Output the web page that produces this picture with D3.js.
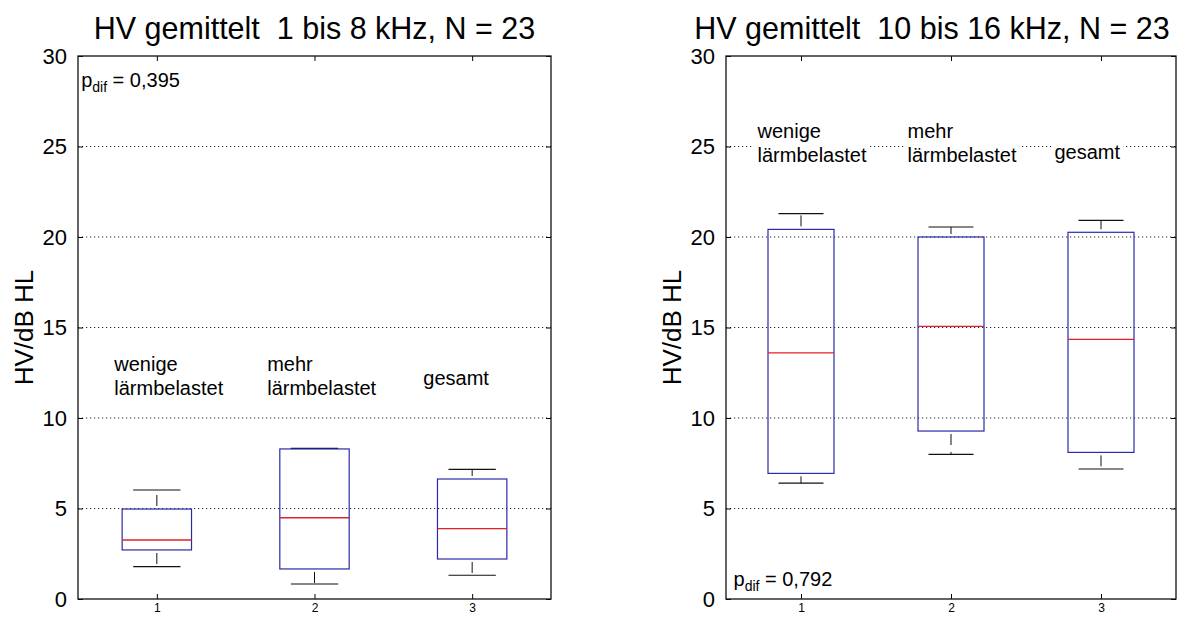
<!DOCTYPE html>
<html>
<head>
<meta charset="utf-8">
<script src="https://cdn.jsdelivr.net/npm/d3@7"></script>
<style>
  html, body { margin: 0; padding: 0; background: #fff; }
  svg { display: block; }
  text { font-family: "Liberation Sans", Arial, Helvetica, sans-serif; fill: #000; white-space: pre; }
</style>
</head>
<body>
<svg id="chart" width="1194" height="617"></svg>
<script>
// Hearing loss (HV) averaged over two frequency ranges, three groups each
const categories = [1, 2, 3];
const groupLabels = [["wenige", "lärmbelastet"], ["mehr", "lärmbelastet"], ["gesamt"]];
const yTicks = [0, 5, 10, 15, 20, 25, 30];
const yLabel = "HV/dB HL";

// Panel 1: 1 bis 8 kHz
const title1 = "HV gemittelt  1 bis 8 kHz, N = 23";
const lowWhisker1 = [1.79, 0.83, 1.31];
const q1_1 = [2.71, 1.66, 2.21];
const median1 = [3.26, 4.49, 3.89];
const q3_1 = [4.97, 8.29, 6.63];
const highWhisker1 = [6.02, 8.32, 7.16];
const pdif1 = "0,395";

// Panel 2: 10 bis 16 kHz
const title2 = "HV gemittelt  10 bis 16 kHz, N = 23";
const lowWhisker2 = [6.40, 7.99, 7.18];
const q1_2 = [6.94, 9.28, 8.10];
const median2 = [13.60, 15.06, 14.34];
const q3_2 = [20.42, 20.00, 20.26];
const highWhisker2 = [21.29, 20.55, 20.92];
const pdif2 = "0,792";

const svg = d3.select("#chart");

const panels = [
  {
    title: title1, low: lowWhisker1, q1: q1_1, med: median1, q3: q3_1, high: highWhisker1, pdif: pdif1,
    left: 78, right: 551, top: 56, bottom: 599, titleShift: 0,
    labelPos: [[0.73, 12.6], [1.70, 12.6], [2.69, 11.85]],
    pPos: [0.52, 28.3]
  },
  {
    title: title2, low: lowWhisker2, q1: q1_2, med: median2, q3: q3_2, high: highWhisker2, pdif: pdif2,
    left: 726, right: 1176, top: 56, bottom: 599, titleShift: -19,
    labelPos: [[0.71, 25.45], [1.71, 25.45], [2.69, 24.3]],
    pPos: [0.55, 0.7]
  }
];

const boxWidth = 0.44;
const capWidth = 0.3;

panels.forEach(p => {
  const x = d3.scaleLinear().domain([0.5, 3.5]).range([p.left, p.right]);
  const y = d3.scaleLinear().domain([0, 30]).range([p.bottom, p.top]);
  const g = svg.append("g");

  // dotted horizontal grid
  g.append("g").selectAll("line").data(yTicks.filter(t => t > 0 && t < 30)).join("line")
    .attr("x1", p.left).attr("x2", p.right)
    .attr("y1", d => y(d)).attr("y2", d => y(d))
    .attr("stroke", "#222").attr("stroke-width", 1)
    .attr("stroke-dasharray", "1.2,2.8");

  // y axis: ticks pointing inward, labels outside
  const yAxis = g.append("g").attr("transform", `translate(${p.left},0)`)
    .call(d3.axisLeft(y).tickValues(yTicks).tickSize(-5).tickPadding(11).tickFormat(d3.format("d")));
  yAxis.select(".domain").remove();
  yAxis.selectAll("text").attr("font-size", 22).attr("fill", "#000");
  yAxis.selectAll("line").attr("stroke", "#000");

  const yAxisR = g.append("g").attr("transform", `translate(${p.right},0)`)
    .call(d3.axisRight(y).tickValues(yTicks).tickSize(-5).tickFormat(""));
  yAxisR.select(".domain").remove();
  yAxisR.selectAll("line").attr("stroke", "#000");

  // x axis ticks (bottom and top), labels below
  const xAxis = g.append("g").attr("transform", `translate(0,${p.bottom})`)
    .call(d3.axisBottom(x).tickValues(categories).tickSize(-5).tickPadding(4).tickFormat(d3.format("d")));
  xAxis.select(".domain").remove();
  xAxis.selectAll("text").attr("font-size", 12).attr("fill", "#000");
  xAxis.selectAll("line").attr("stroke", "#000");

  const xAxisT = g.append("g").attr("transform", `translate(0,${p.top})`)
    .call(d3.axisTop(x).tickValues(categories).tickSize(-5).tickFormat(""));
  xAxisT.select(".domain").remove();
  xAxisT.selectAll("line").attr("stroke", "#000");

  // frame
  g.append("rect")
    .attr("x", p.left).attr("y", p.top)
    .attr("width", p.right - p.left).attr("height", p.bottom - p.top)
    .attr("fill", "none").attr("stroke", "#111").attr("stroke-width", 1.3);

  // boxes
  const idx = d3.range(categories.length);
  const bw = x(1 + boxWidth / 2) - x(1);
  const cw = x(1 + capWidth / 2) - x(1);

  const bx = g.append("g").selectAll("g").data(idx).join("g");

  // whiskers (dashed) from box to caps
  bx.append("line")
    .attr("x1", i => x(categories[i])).attr("x2", i => x(categories[i]))
    .attr("y1", i => y(p.q3[i])).attr("y2", i => y(p.high[i]))
    .attr("stroke", "#111").attr("stroke-dasharray", "0,3,11,4");
  bx.append("line")
    .attr("x1", i => x(categories[i])).attr("x2", i => x(categories[i]))
    .attr("y1", i => y(p.q1[i])).attr("y2", i => y(p.low[i]))
    .attr("stroke", "#111").attr("stroke-dasharray", "0,3,11,4");
  // caps
  bx.append("line")
    .attr("x1", i => x(categories[i]) - cw).attr("x2", i => x(categories[i]) + cw)
    .attr("y1", i => y(p.high[i])).attr("y2", i => y(p.high[i]))
    .attr("stroke", "#111").attr("stroke-width", 1.1);
  bx.append("line")
    .attr("x1", i => x(categories[i]) - cw).attr("x2", i => x(categories[i]) + cw)
    .attr("y1", i => y(p.low[i])).attr("y2", i => y(p.low[i]))
    .attr("stroke", "#111").attr("stroke-width", 1.1);
  // interquartile box
  bx.append("rect")
    .attr("x", i => x(categories[i]) - bw)
    .attr("y", i => y(p.q3[i]))
    .attr("width", 2 * bw)
    .attr("height", i => y(p.q1[i]) - y(p.q3[i]))
    .attr("fill", "none").attr("stroke", "#2a2aa8").attr("stroke-width", 1.2);
  // median
  bx.append("line")
    .attr("x1", i => x(categories[i]) - bw).attr("x2", i => x(categories[i]) + bw)
    .attr("y1", i => y(p.med[i])).attr("y2", i => y(p.med[i]))
    .attr("stroke", "#e0202a").attr("stroke-width", 1.3);

  // group labels with white background
  groupLabels.forEach((lines, i) => {
    const [lx, ly] = p.labelPos[i];
    const t = g.append("text").attr("font-size", 20);
    lines.forEach((ln, k) => {
      t.append("tspan").attr("x", x(lx)).attr("y", y(ly) + k * 24).text(ln);
    });
    const bb = t.node().getBBox();
    g.insert("rect", () => t.node())
      .attr("x", bb.x - 3).attr("y", bb.y - 1)
      .attr("width", bb.width + 6).attr("height", bb.height + 2)
      .attr("fill", "#fff");
  });

  // p value
  const pt = g.append("text").attr("font-size", 20)
    .attr("x", x(p.pPos[0])).attr("y", y(p.pPos[1]));
  pt.append("tspan").text("p");
  pt.append("tspan").attr("font-size", 14).attr("dy", 5).text("dif");
  pt.append("tspan").attr("dy", -5).text(" = " + p.pdif);

  // title
  svg.append("text")
    .attr("x", (p.left + p.right) / 2 + p.titleShift).attr("y", 39)
    .attr("text-anchor", "middle").attr("font-size", 30.5)
    .text(p.title);

  // y label
  svg.append("text")
    .attr("transform", `translate(${p.left - 45},${(p.top + p.bottom) / 2}) rotate(-90)`)
    .attr("text-anchor", "middle").attr("font-size", 26)
    .text(yLabel);
});
</script>
</body>
</html>
